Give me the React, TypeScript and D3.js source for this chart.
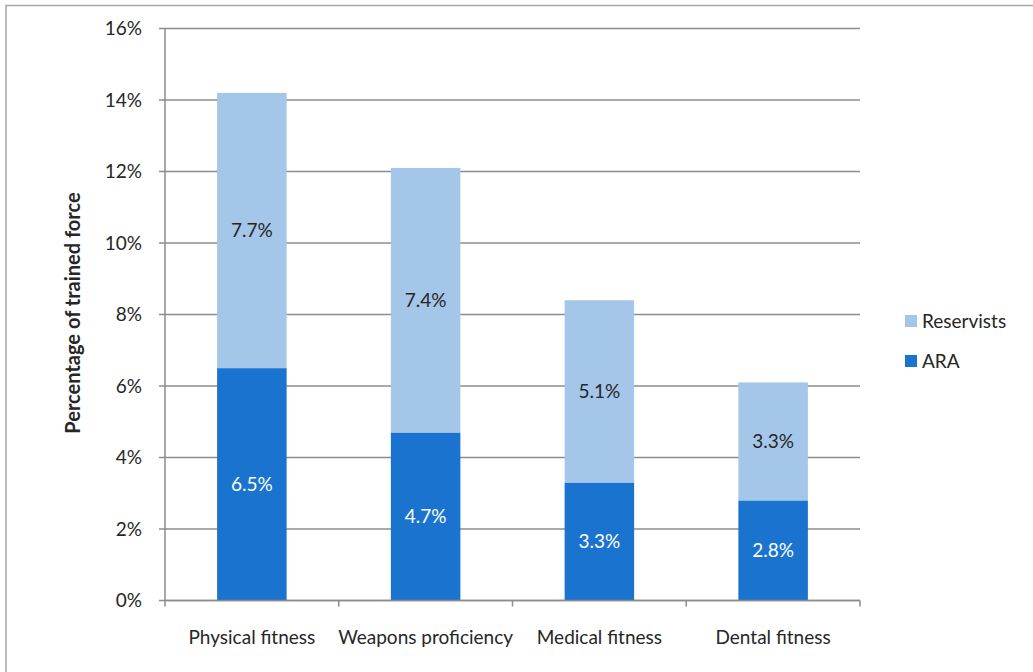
import React from "react";
import * as d3 from "d3";

const categories = ["Physical fitness", "Weapons proficiency", "Medical fitness", "Dental fitness"];
const araValues = [6.5, 4.7, 3.3, 2.8];
const reservistValues = [7.7, 7.4, 5.1, 3.3];
const yTicks = [0, 2, 4, 6, 8, 10, 12, 14, 16];
const seriesNames = ["Reservists", "ARA"];

const W = 1033;
const H = 672;
const FONT = "Lato, 'Open Sans', sans-serif";
const FS = 19;
const TEXT = "#262626";
const GRID = "#8c8c8c";
const COLORS: Record<string, string> = { ARA: "#1a74cf", Reservists: "#a4c6e9" };

export default function App() {
  const x = d3.scaleBand<string>().domain(categories).range([165, 860]).paddingInner(0.6).paddingOuter(0.3);
  const xb = d3.scaleBand<string>().domain(categories).range([165, 860]);
  const y = d3.scaleLinear().domain([0, 16]).range([600.5, 28.5]);

  const rows = categories.map((c, i) => ({ c, ARA: araValues[i], Reservists: reservistValues[i] }));
  const stack = d3.stack<any>().keys(["ARA", "Reservists"])(rows);

  const boundaries = categories.map((c) => xb(c)!).concat([860]);

  return (
    <svg width={W} height={H} style={{ position: "absolute", left: 0, top: 0 }} fontFamily={FONT}>
      <rect x={0} y={0} width={W} height={H} fill="#fff" />
      <rect x={6} y={5.5} width={W + 10} height={H + 10} fill="none" stroke="#a6a6a6" strokeWidth={1.5} />

      {/* gridlines */}
      {yTicks.map((t) => (
        <g key={t}>
          <line x1={159} x2={860} y1={y(t)} y2={y(t)} stroke={GRID} strokeWidth={1.5} />
          <text x={142} y={y(t)} dy="0.35em" textAnchor="end" fontSize={FS} fill={TEXT}>
            {t}%
          </text>
        </g>
      ))}
      <line x1={165} x2={165} y1={y(16)} y2={y(0)} stroke={GRID} strokeWidth={1.5} />

      {/* bars */}
      {stack.map((s) =>
        s.map((d, i) => (
          <rect
            key={s.key + i}
            x={x(categories[i])}
            width={x.bandwidth()}
            y={y(d[1])}
            height={y(d[0]) - y(d[1])}
            fill={COLORS[s.key]}
          />
        ))
      )}

      {/* x axis */}
      <line x1={165} x2={860} y1={y(0)} y2={y(0)} stroke={GRID} strokeWidth={1.5} />
      {boundaries.map((b, i) => (
        <line key={i} x1={b} x2={b} y1={y(0)} y2={y(0) + 6} stroke={GRID} strokeWidth={1.5} />
      ))}

      {/* value labels */}
      {stack.map((s) =>
        s.map((d, i) => (
          <text
            key={"l" + s.key + i}
            x={x(categories[i])! + x.bandwidth() / 2}
            y={(y(d[0]) + y(d[1])) / 2}
            dy="0.35em"
            textAnchor="middle"
            fontSize={FS}
            fill={s.key === "ARA" ? "#ffffff" : TEXT}
          >
            {(d[1] - d[0]).toFixed(1)}%
          </text>
        ))
      )}

      {/* category labels */}
      {categories.map((c) => (
        <text key={c} x={xb(c)! + xb.bandwidth() / 2} y={644} textAnchor="middle" fontSize={FS} fill={TEXT}>
          {c}
        </text>
      ))}

      {/* y axis title */}
      <text
        transform={`translate(80,313) rotate(-90)`}
        textAnchor="middle"
        fontSize={20}
        fontWeight="bold"
        fill={TEXT}
      >
        Percentage of trained force
      </text>

      {/* legend */}
      {seriesNames.map((n, i) => (
        <g key={n} transform={`translate(905,${315 + i * 40})`}>
          <rect x={0} y={0} width={12} height={12} fill={COLORS[n]} />
          <text x={17} y={6} dy="0.35em" fontSize={FS} fill={TEXT}>
            {n}
          </text>
        </g>
      ))}
    </svg>
  );
}
